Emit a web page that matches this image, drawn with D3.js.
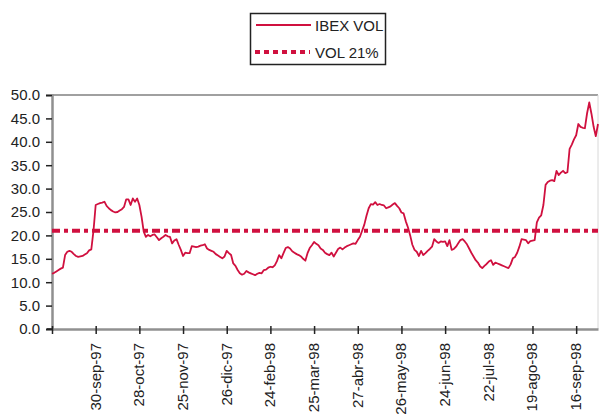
<!DOCTYPE html>
<html><head><meta charset="utf-8">
<script src="https://cdn.jsdelivr.net/npm/d3@7"></script>
<style>body{margin:0;background:#fff}svg{display:block;font-family:"Liberation Sans",Arial,sans-serif}</style>
</head><body><svg id="c" width="599" height="414"></svg>
<script>
const ibexVol = [
11.8,12.0,12.3,12.6,12.9,13.1,15.8,16.5,16.7,16.5,
16.0,15.6,15.4,15.5,15.6,15.9,16.2,16.8,17.0,21.0,
26.5,26.7,26.9,27.0,27.2,26.3,25.8,25.4,25.1,24.9,
25.0,25.3,25.6,26.1,27.7,27.7,26.5,27.9,27.2,27.9,
26.5,24.0,20.8,19.7,20.1,19.8,20.1,20.2,19.6,19.0,
19.4,19.7,20.1,19.8,19.7,18.3,18.9,19.2,18.0,16.9,
15.6,16.3,16.2,16.2,17.7,17.6,17.5,17.6,17.8,17.9,
18.1,17.2,16.9,16.7,16.5,16.0,15.7,15.4,15.1,15.5,
16.7,16.2,15.8,14.0,13.5,12.6,11.9,11.6,11.8,12.4,
12.1,11.9,11.7,11.5,11.8,12.0,11.9,12.6,12.7,13.1,
13.3,13.2,13.6,14.5,15.8,15.1,16.2,17.3,17.5,17.2,
16.6,16.3,16.0,15.8,15.5,15.0,14.6,16.2,17.3,17.9,
18.6,18.2,17.9,17.2,16.9,16.3,16.0,15.8,16.3,15.5,
16.3,17.1,17.4,17.0,17.4,17.7,17.9,18.1,18.3,18.2,
19.0,19.7,21.0,22.3,24.2,25.8,26.7,26.6,27.1,26.5,
26.7,26.5,26.4,25.8,26.0,26.2,26.6,26.9,26.3,25.8,
24.9,24.7,23.0,21.7,20.0,18.0,16.9,16.5,15.6,16.7,
15.8,16.2,16.7,17.1,17.6,19.2,18.7,18.4,18.7,18.6,
18.7,17.7,19.0,16.9,17.1,17.6,18.3,19.0,19.2,18.7,
18.1,17.2,16.3,15.5,14.7,14.2,13.4,13.0,13.5,13.9,
14.4,14.7,13.7,14.2,14.0,13.8,13.6,13.4,13.2,13.0,
13.8,15.1,15.4,16.3,17.6,19.2,19.1,19.0,18.3,18.8,
18.9,19.0,22.8,23.8,24.3,26.5,30.8,31.4,31.7,31.8,
31.6,33.8,32.9,33.4,33.8,33.3,33.5,38.5,39.4,40.5,
41.4,43.8,43.2,43.0,42.9,46.1,48.4,46.0,43.2,41.2,
43.8
];
const volLevel = 21;
const tickLabels = ["30-sep-97","28-oct-97","25-nov-97","26-dic-97","24-feb-98","25-mar-98","27-abr-98","26-may-98","24-jun-98","22-jul-98","19-ago-98","16-sep-98"];
const tickStep = 20;
const yTicks = [0,5,10,15,20,25,30,35,40,45,50];
const seriesNames = ["IBEX VOL","VOL 21%"];

const red = "#d0103f";
const svg = d3.select("#c");
const L = 52, R = 598, T = 95, B = 329;
const x = d3.scaleLinear().domain([0, ibexVol.length - 1]).range([L, R]);
const y = d3.scaleLinear().domain([0, 50]).range([B, T]);

// frame (top & right)
svg.append("line").attr("x1",L).attr("x2",R).attr("y1",T).attr("y2",T).attr("stroke","#a0a0a0").attr("stroke-width",2);
svg.append("line").attr("x1",R).attr("x2",R).attr("y1",T).attr("y2",B).attr("stroke","#d8d8d8").attr("stroke-width",1);

// y axis
const ya = svg.append("g").attr("transform",`translate(${L},0)`)
  .call(d3.axisLeft(y).tickValues(yTicks).tickFormat(d3.format(".1f")).tickSize(6).tickPadding(6));
ya.select(".domain").attr("stroke","#909090").attr("stroke-width",2.5);
ya.selectAll(".tick line").attr("stroke","#222").attr("stroke-width",1.5);
ya.selectAll("text").attr("font-size",15).attr("fill","#222").attr("font-family","Liberation Sans, Arial, sans-serif");

// x axis
const tickIdx = tickLabels.map((d,i)=>(i+1)*tickStep);
const xa = svg.append("g").attr("transform",`translate(0,${B})`)
  .call(d3.axisBottom(x).tickValues([0].concat(tickIdx)).tickFormat("").tickSize(5).tickSizeOuter(0));
xa.select(".domain").attr("stroke","#909090").attr("stroke-width",2.5);
xa.selectAll(".tick line").attr("y1",-3).attr("stroke","#222").attr("stroke-width",1.5);
svg.append("line").attr("x1",L-5).attr("x2",L).attr("y1",B).attr("y2",B).attr("stroke","#222").attr("stroke-width",1.5);
svg.append("g").selectAll("text").data(tickLabels).join("text")
  .attr("transform",(d,i)=>`translate(${x(tickIdx[i])+5},343) rotate(-90)`)
  .attr("text-anchor","end").attr("font-size",15).attr("fill","#222").text(d=>d);

// reference line
svg.append("line").attr("x1",L).attr("x2",R).attr("y1",y(volLevel)).attr("y2",y(volLevel))
  .attr("stroke",red).attr("stroke-width",4).attr("stroke-dasharray","8,4,4,4");

// series line
svg.append("path").datum(ibexVol)
  .attr("d", d3.line().x((d,i)=>x(i)).y(d=>y(d)))
  .attr("fill","none").attr("stroke",red).attr("stroke-width",1.8).attr("stroke-linejoin","round");

// legend
const lg = svg.append("g");
lg.append("rect").attr("x",250.5).attr("y",13.5).attr("width",135).attr("height",51).attr("fill","#fff").attr("stroke","#222").attr("stroke-width",1.5);
lg.append("line").attr("x1",256).attr("x2",311).attr("y1",25).attr("y2",25).attr("stroke",red).attr("stroke-width",1.8);
lg.append("line").attr("x1",255).attr("x2",310).attr("y1",52).attr("y2",52).attr("stroke",red).attr("stroke-width",4).attr("stroke-dasharray","5,4");
lg.selectAll("text").data(seriesNames).join("text")
  .attr("x",315).attr("y",(d,i)=>31+i*27).attr("font-size",15).attr("fill","#222").text(d=>d);
</script></body></html>
